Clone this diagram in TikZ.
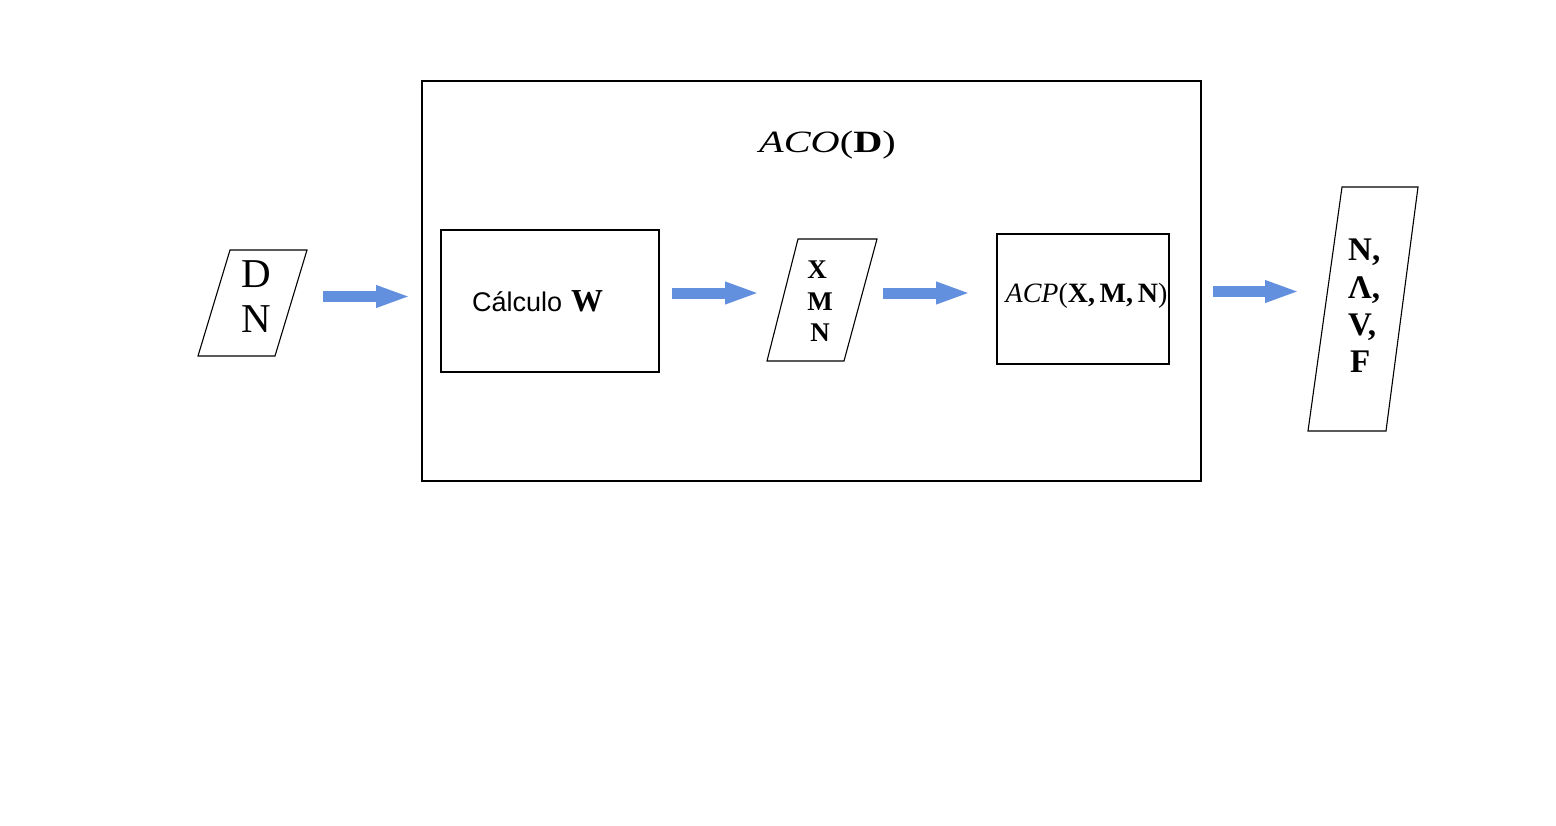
\documentclass[tikz,border=0pt]{standalone}
\usepackage{fontspec}
\usepackage{graphicx}
\setmainfont{Liberation Serif}
\newfontfamily\sansfam{Liberation Sans}
\usetikzlibrary{arrows.meta}
\definecolor{arrowblue}{RGB}{98,144,222}
\tikzset{
  box/.style={draw=black, line width=1.1pt, inner sep=0pt},
  shapeline/.style={draw=black, line width=1.1pt},
  blockarrow/.style={draw=arrowblue, line width=11pt, -{Triangle[length=35pt,width=20pt]}},
  txt/.style={inner sep=0pt, anchor=base}
}
\begin{document}
\begin{tikzpicture}[x=1pt,y=-1pt]
\useasboundingbox[fill=white] (0,0) rectangle (1556,825);

% outer box
\node[box, minimum width=779pt, minimum height=400pt] (aco) at (811.5,281) {};
\node[txt] (acotitle) at (827.5,152) {\scalebox{1.3}[1]{\fontsize{31}{36}\selectfont\itshape ACO\upshape(\bfseries D\mdseries)}};

% left parallelogram
\draw[shapeline] (230,250) -- (307,250) -- (275,356) -- (198,356) -- cycle;
\node[txt] (dn1) at (256,287) {\fontsize{41}{45}\selectfont D};
\node[txt] (dn2) at (256,332) {\fontsize{41}{45}\selectfont N};

% calculo box
\node[box, minimum width=218pt, minimum height=142pt] (calc) at (550,301) {};
\node[txt, anchor=base west] (calctxt) at (472,311) {\sansfam\fontsize{27}{32}\selectfont C\'alculo\hspace{9pt}{\rmfamily\fontsize{32}{36}\selectfont\bfseries W}};

% middle parallelogram
\draw[shapeline] (798,239) -- (877,239) -- (844,361) -- (767,361) -- cycle;
\node[txt] (xmn1) at (817,278) {\fontsize{27}{31}\selectfont\bfseries X};
\node[txt] (xmn2) at (820,310) {\fontsize{27}{31}\selectfont\bfseries M};
\node[txt] (xmn3) at (820,341) {\fontsize{27}{31}\selectfont\bfseries N};

% ACP box
\node[box, minimum width=172pt, minimum height=130pt] (acp) at (1083,299) {};
\node[txt] (acptxt) at (1086.5,302) {\fontsize{28}{33}\selectfont\itshape ACP\upshape(\bfseries X,\,M,\,N\mdseries)};

% right parallelogram
\draw[shapeline] (1342,187) -- (1418,187) -- (1386,431) -- (1308,431) -- cycle;
\node[txt, anchor=base west] (out1) at (1348,260) {\fontsize{33}{37}\selectfont\bfseries N,};
\node[txt, anchor=base west] (out2) at (1348,298) {\fontsize{33}{37}\selectfont\bfseries Λ,};
\node[txt, anchor=base west] (out3) at (1348,335) {\fontsize{33}{37}\selectfont\bfseries V,};
\node[txt, anchor=base west] (out4) at (1350,372) {\fontsize{33}{37}\selectfont\bfseries F};

% arrows
\coordinate (a1s) at (323,296.5);
\coordinate (a1e) at (411,296.5);
\coordinate (a2s) at (672,293);
\coordinate (a2e) at (760,293);
\coordinate (a3s) at (883,293);
\coordinate (a3e) at (971,293);
\coordinate (a4s) at (1213,291.5);
\coordinate (a4e) at (1300,291.5);
\draw[blockarrow] (a1s) -- (a1e);
\draw[blockarrow] (a2s) -- (a2e);
\draw[blockarrow] (a3s) -- (a3e);
\draw[blockarrow] (a4s) -- (a4e);
\end{tikzpicture}
\end{document}
